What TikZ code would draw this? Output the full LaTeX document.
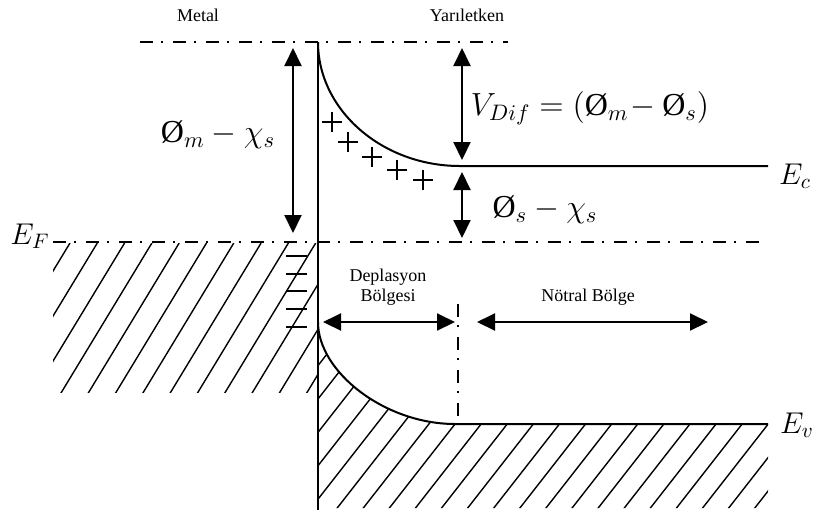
\documentclass[tikz,border=0pt]{standalone}
\usepackage{fix-cm}
\usepackage{fontspec}
\setmainfont{Liberation Serif}
\usetikzlibrary{arrows.meta, positioning}
\newcommand{\phiO}{\textrm{Ø}}
\tikzset{
  band/.style   = {line width=1pt},
  lvl/.style    = {line width=1.2pt, dash pattern=on 6.5pt off 4pt on 1.2pt off 4.8pt},
  hatch/.style  = {line width=0.7pt},
  chg/.style    = {line width=0.9pt},
  dimarr/.style = {{Triangle[length=9pt,width=8.5pt]}-{Triangle[length=9pt,width=8.5pt]},
                   line width=1pt},
  reg/.style    = {font=\fontsize{9}{10}\selectfont, align=center, inner sep=0pt},
  eq/.style     = {font=\fontsize{16}{19}\selectfont, inner sep=0pt},
  lev/.style    = {font=\fontsize{15}{18}\selectfont, inner sep=0pt},
}

\begin{document}
\begin{tikzpicture}[x=0.5pt, y=-0.5pt]
  \useasboundingbox (0,0) rectangle (814,516);

  % metal hatching
  \begin{scope}
    \clip (53,243) rectangle (318,392);
    \foreach \k in {0,...,12}
      \draw[hatch] ({70+27.3*\k},243) -- ++(-100,165);
  \end{scope}

  % semiconductor hatching
  \begin{scope}
    \clip (318,322) .. controls (318,372) and (385,424) .. (455,424)
      -- (768,424) -- (768,508) -- (318,508) -- cycle;
    \foreach \k in {-8,...,14}
      \draw[hatch] ({455+26.1*\k+85.2},315) -- ({455+26.1*\k-70.3},514);
  \end{scope}

  % bands and levels
  \draw[band] (318,42) -- (318,510);
  \draw[band] (318,42) .. controls (318,110) and (382,166) .. (460,166) -- (768,166);
  \draw[band] (318,322) .. controls (318,372) and (385,424) .. (455,424) -- (768,424);
  \draw[lvl] (140,42) -- (508,42);
  \draw[lvl] (53,242) -- (766,242);
  \draw[lvl] (458,304) -- (458,424);

  % charges
  \foreach \px/\py in {332/122, 348/142, 372/157, 397/170, 423/180}
    \draw[chg] (\px-10,\py) -- (\px+10,\py) (\px,\py-10) -- (\px,\py+10);
  \foreach \my in {256,274,291,309,327}
    \draw[chg] (286,\my) -- (307,\my);

  % labels
  \node[reg] (metal)  at (198,15)  {Metal};
  \node[reg] (yari)   at (467,15)  {Yarıletken};
  \node[reg] (dep)    at (388,287) {Deplasyon\\Bölgesi};
  \node[reg] (notral) at (588,297) {Nötral Bölge};
  \node[eq]  (lphim)  at (218,135) {$\phiO_m - \chi_s$};
  \node[eq]  (lvdif)  at (590,108) {$V_{Dif} = (\phiO_m\!- \phiO_s)$};
  \node[eq]  (lphis)  at (545,210) {$\phiO_s - \chi_s$};
  \node[lev] (ef)     at (30,236)  {$E_F$};
  \node[lev] (ec)     at (795,176) {$E_c$};
  \node[lev] (ev)     at (797,425) {$E_v$};

  % dimension arrows
  \coordinate (phimTop) at (293,48);
  \coordinate (phimBot) at (293,233);
  \coordinate (vdifTop) at (462,48);
  \coordinate (vdifBot) at (462,160);
  \coordinate (phisTop) at (462,172);
  \coordinate (phisBot) at (462,238);
  \coordinate (depL)    at (323,322);
  \coordinate (depR)    at (455,322);
  \coordinate (notL)    at (477,322);
  \coordinate (notR)    at (708,322);

  \foreach \i/\j in {phimTop/phimBot, vdifTop/vdifBot, phisTop/phisBot,
                     depL/depR, notL/notR}
    \draw[dimarr] (\i) -- (\j);

\end{tikzpicture}
\end{document}
